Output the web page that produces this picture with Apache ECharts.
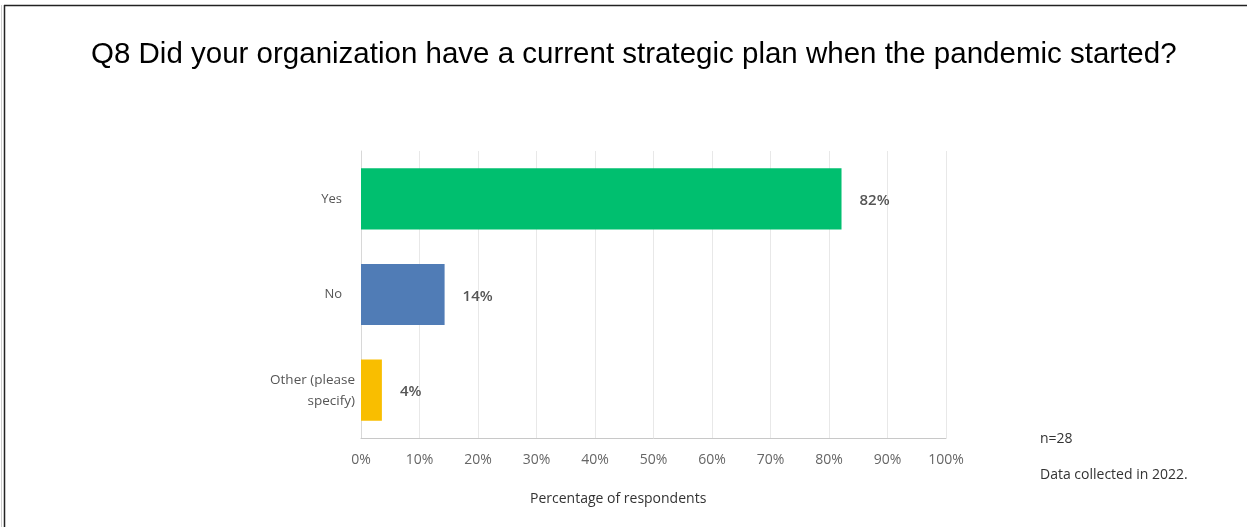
<!DOCTYPE html>
<html><head><meta charset="utf-8">
<script src="https://cdn.jsdelivr.net/npm/echarts@6/dist/echarts.min.js"></script>
<style>html,body{margin:0;padding:0;background:#fff}#c{width:1249px;height:527px}</style>
</head><body><div id="c"></div>
<script>
const categories = ['Yes', 'No', 'Other (please\nspecify)'];
const values = [82.14, 14.29, 3.57];
const colors = ['#00bf6f', '#507cb6', '#f9be00'];
const xTicks = [0, 10, 20, 30, 40, 50, 60, 70, 80, 90, 100];
const title = 'Q8 Did your organization have a current strategic plan when the pandemic started?';
const xName = 'Percentage of respondents';
const notes = ['n=28', 'Data collected in 2022.'];

const chart = echarts.init(document.getElementById('c'));
chart.setOption({
  backgroundColor: '#fff',
  animation: false,
  title: {
    text: title, left: 86, top: 35,
    textStyle: {fontFamily: 'Liberation Sans', fontSize: 29.5, fontWeight: 'normal', color: '#000'}
  },
  grid: {left: 361, right: 303, top: 151, bottom: 89, containLabel: false},
  xAxis: {
    type: 'value', min: xTicks[0], max: xTicks[xTicks.length - 1], interval: 10,
    axisLine: {show: true, lineStyle: {color: '#c8c8c8'}},
    axisTick: {show: false},
    axisLabel: {formatter: v => v + '%', fontFamily: 'Open Sans', fontSize: 14, color: '#666', margin: 15},
    splitLine: {show: true, lineStyle: {color: '#e8e8e8'}}
  },
  yAxis: {
    type: 'category', data: categories, inverse: true,
    axisLine: {show: true, lineStyle: {color: '#d8d8d8'}},
    axisTick: {show: false},
    axisLabel: {
      margin: 6, align: 'right',
      formatter: v => v.indexOf('\n') >= 0 ? '{w|' + v + '}' : '{n|' + v + '}',
      rich: {
        n: {fontFamily: 'Open Sans', fontSize: 13, color: '#555', padding: [0, 13, 0, 0]},
        w: {fontFamily: 'Open Sans', fontSize: 13.5, color: '#555', lineHeight: 21}
      }
    }
  },
  series: [{
    type: 'bar',
    data: values.map((v, i) => ({value: v, itemStyle: {color: colors[i]}})),
    barCategoryGap: '36%',
    label: {show: true, position: 'right', distance: 18, formatter: p => Math.round(p.value) + '%',
      fontFamily: 'Open Sans', fontSize: 15, fontWeight: 600, color: '#555', offset: [0, 2]}
  }],
  graphic: [
    {type: 'line', shape: {x1: 1.5, y1: 5, x2: 1.5, y2: 527}, style: {stroke: '#ccc', lineWidth: 1}},
    {type: 'line', shape: {x1: 4.5, y1: 5, x2: 4.5, y2: 527}, style: {stroke: '#222', lineWidth: 1.5}},
    {type: 'line', shape: {x1: 4, y1: 5.5, x2: 1247, y2: 5.5}, style: {stroke: '#222', lineWidth: 1.5}},
    {type: 'text', left: 530, top: 492, style: {text: xName, font: '14px "Open Sans"', fill: '#333'}},
    {type: 'text', left: 1040, top: 432, style: {text: notes[0], font: '14px "Open Sans"', fill: '#333'}},
    {type: 'text', left: 1040, top: 468, style: {text: notes[1], font: '14px "Open Sans"', fill: '#333'}}
  ]
});
</script></body></html>
